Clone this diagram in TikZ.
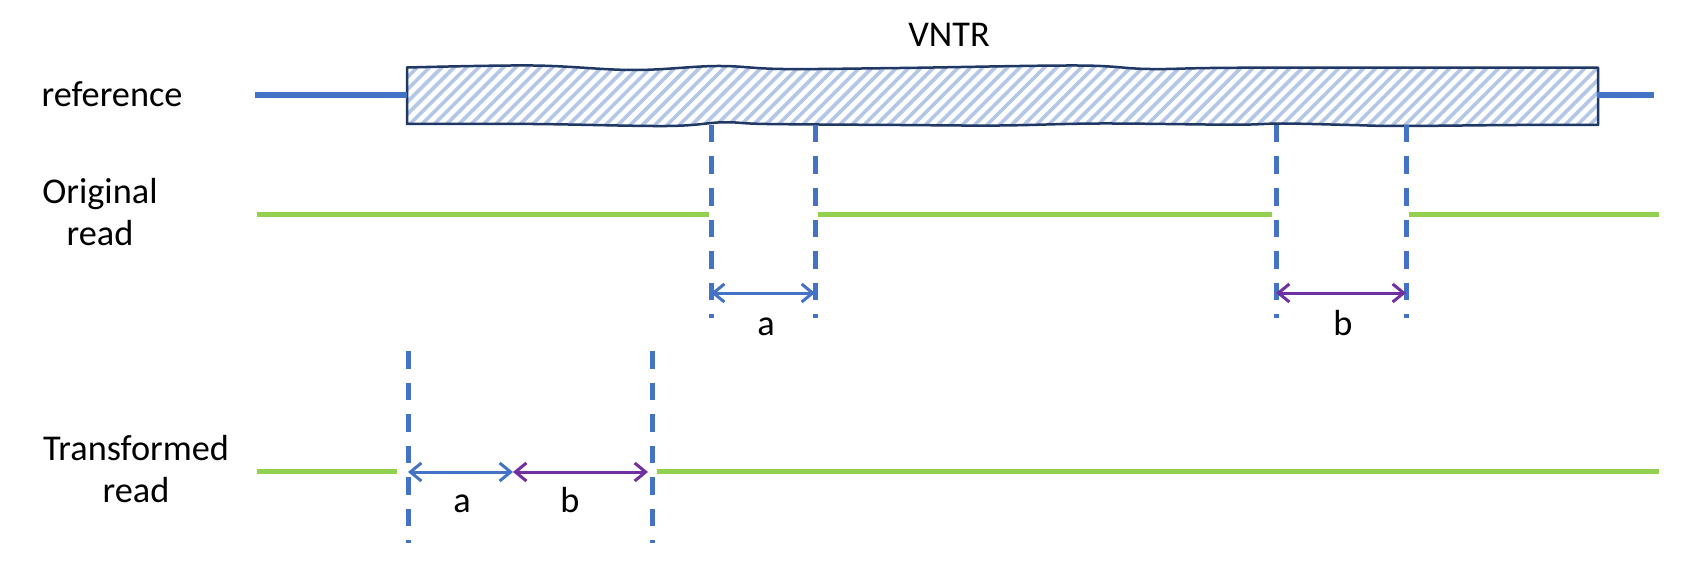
\documentclass[tikz,border=0pt]{standalone}
\usepackage{fontspec}
\setmainfont{Carlito}
\usetikzlibrary{arrows.meta}
\definecolor{refblue}{HTML}{4472C4}
\definecolor{readgreen}{HTML}{92D050}
\definecolor{bpurple}{HTML}{7030A0}
\definecolor{boxnavy}{HTML}{1F3864}
\definecolor{hatchblue}{HTML}{B4C7E7}
\begin{document}
\begin{tikzpicture}[x=1pt,y=-1pt,
  lbl/.style={font=\fontsize{36.3}{42}\selectfont, align=center, anchor=base, inner sep=0pt},
  refline/.style={draw=refblue, line width=6pt},
  readline/.style={draw=readgreen, line width=5pt},
  cutline/.style={draw=refblue, line width=5pt, dash pattern=on 17.5pt off 14pt},
  dimA/.style={draw=refblue, line width=3pt, {Straight Barb[length=11pt,width=18pt]}-{Straight Barb[length=11pt,width=18pt]}},
  dimB/.style={dimA, draw=bpurple},
  boxedge/.style={draw=boxnavy, line width=2.5pt, line join=round},
  hatchline/.style={draw=hatchblue, line width=3.6pt}
]
\useasboundingbox (0,0) rectangle (1704,564);
\def\vntrpath{(407,67.5) -- plot[smooth, tension=0.6] coordinates {(407,67.5) (533,65.5) (633,70) (717,66) (783,69) (900,68) (1077,65.5) (1150,69) (1250,67.7) (1598,67.7)}
  -- (1598,125) -- plot[smooth, tension=0.6] coordinates {(1598,125) (1517,125) (1400,126) (1350,125) (1283,123.5) (1233,124.7) (1100,123.5) (1000,125.5) (900,125) (767,124) (723,122.3) (667,126) (533,124) (407,124)} -- cycle}
% hatch fill
\begin{scope}
  \clip \vntrpath;
  \foreach \i in {0,...,115} \draw[hatchline] ({320+12.3*\i},140) -- ++(80,-80);
\end{scope}
\draw[boxedge] \vntrpath;

% coordinates
\coordinate (refL) at (255,95);
\coordinate (boxL) at (407,95);
\coordinate (boxR) at (1597,95);
\coordinate (refR) at (1654,95);

\coordinate (c1t) at (711,125);  \coordinate (c1b) at (711,318);
\coordinate (c2t) at (815,125);  \coordinate (c2b) at (815,318);
\coordinate (c3t) at (1276,125); \coordinate (c3b) at (1276,318);
\coordinate (c4t) at (1406,125); \coordinate (c4b) at (1406,318);
\coordinate (t1t) at (408,351);  \coordinate (t1b) at (408,543);
\coordinate (t2t) at (652,351);  \coordinate (t2b) at (652,543);

\coordinate (o0) at (257,214);  \coordinate (o1) at (709,214);
\coordinate (o2) at (818,214);  \coordinate (o3) at (1272,214);
\coordinate (o4) at (1409,214); \coordinate (o5) at (1659,214);
\coordinate (r0) at (257,471);  \coordinate (r1) at (397,471);
\coordinate (r2) at (657,471);  \coordinate (r3) at (1659,471);

\coordinate (aL) at (711,293); \coordinate (aR) at (815,293);
\coordinate (bL) at (1276,293); \coordinate (bR) at (1406,293);
\coordinate (ta0) at (408,472); \coordinate (ta1) at (513,472); \coordinate (ta2) at (648,472);

% reference line
\draw[refline] (refL) -- (boxL);
\draw[refline] (boxR) -- (refR);

% reads
\draw[readline] (o0) -- (o1);
\draw[readline] (o2) -- (o3);
\draw[readline] (o4) -- (o5);
\draw[readline] (r0) -- (r1);
\draw[readline] (r2) -- (r3);

% cut lines
\draw[cutline] (c1t) -- (c1b);
\draw[cutline] (c2t) -- (c2b);
\draw[cutline] (c3t) -- (c3b);
\draw[cutline] (c4t) -- (c4b);
\draw[cutline] (t1t) -- (t1b);
\draw[cutline] (t2t) -- (t2b);

% dimension arrows
\draw[dimA] (aL) -- (aR);
\draw[dimB] (bL) -- (bR);
\draw[dimA] (ta0) -- (ta1);
\draw[dimB] (ta1) -- (ta2);

% labels
\node[lbl] (vntr) at (949,46.7) {VNTR};
\node[lbl] (lref) at (112,106.7) {reference};
\node[lbl] (lorig) at (100,245) {Original\\read};
\node[lbl] (ltrans) at (136,502) {Transformed\\read};
\node[lbl] (la1) at (766,335) {a};
\node[lbl] (lb1) at (1343,335) {b};
\node[lbl] (la2) at (462,512) {a};
\node[lbl] (lb2) at (570,512) {b};
\end{tikzpicture}
\end{document}
